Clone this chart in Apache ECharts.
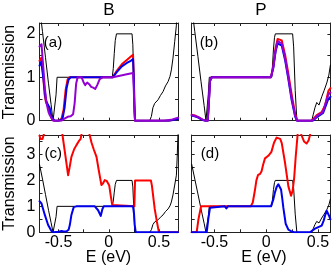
<!DOCTYPE html>
<html><head><meta charset="utf-8">
<script src="https://cdn.jsdelivr.net/npm/echarts@6/dist/echarts.min.js"></script>
<style>html,body{margin:0;padding:0;background:#fff}#c{width:334px;height:266px}</style>
</head><body><div id="c"></div>
<script>
// ---- data (energy E in eV, transmission T) ----
const xTickValues = [-0.5, -0.25, 0, 0.25, 0.5];
const xLabelValues = [-0.5, 0, 0.5];
const yTickTop = [0, 0.5, 1, 1.5, 2];
const yLabelTop = [0, 1, 2];
const yTickBottom = [0, 0.5, 1, 1.5, 2, 2.5, 3, 3.5];
const yLabelBottom = [0, 1, 2, 3];
const columnTitles = ['B', 'P'];
const panelLabels = ['(a)', '(b)', '(c)', '(d)'];

const pristineB = [[-0.69,2.62],[-0.66,2.05],[-0.63,1.45],[-0.6,0.85],[-0.575,0.38],[-0.555,0],[-0.538,0],[-0.525,0.6],[-0.515,1],[0.035,1],[0.045,1.2],[0.055,1.55],[0.065,1.85],[0.077,2],[0.232,2],[0.24,1.75],[0.25,0.9],[0.259,0],[0.408,0],[0.425,0.1],[0.44,0.3],[0.458,0.4],[0.475,0.36],[0.491,0.48],[0.515,0.58],[0.541,0.67],[0.565,0.8],[0.591,0.9],[0.61,1.02],[0.624,1.17],[0.64,1.44],[0.657,1.82],[0.674,2.2],[0.682,2.9],[0.69,3.8]];
const pristineP = [[-0.72,2.62],[-0.69,2.05],[-0.66,1.48],[-0.63,0.9],[-0.6,0.35],[-0.582,0],[-0.57,0],[-0.56,0.6],[-0.55,1],[0.052,1],[0.06,1.25],[0.07,1.65],[0.08,1.92],[0.088,2],[0.255,2],[0.265,1.7],[0.28,0.7],[0.296,0],[0.44,0],[0.455,0.15],[0.471,0.3],[0.488,0.42],[0.5,0.38],[0.51,0.36],[0.536,0.55],[0.56,0.7],[0.585,0.87],[0.605,1.05],[0.62,1.28]];

const redA = [[-0.69,1.38],[-0.672,1.45],[-0.655,1.1],[-0.64,0.62],[-0.625,0.42],[-0.605,0.35],[-0.59,0.25],[-0.57,0.06],[-0.55,0],[-0.5,0],[-0.47,0.05],[-0.45,0.25],[-0.43,0.7],[-0.41,0.95],[-0.39,1],[0.04,1],[0.08,1.15],[0.13,1.3],[0.18,1.4],[0.22,1.48],[0.242,1.52],[0.25,1.0],[0.255,0.4],[0.262,0],[0.6,0],[0.65,0.02],[0.69,0.05]];
const blueA = [[-0.69,1.27],[-0.672,1.36],[-0.65,0.94],[-0.627,0.48],[-0.605,0.36],[-0.588,0.29],[-0.571,0.09],[-0.54,0],[-0.49,0],[-0.46,0.05],[-0.44,0.3],[-0.42,0.75],[-0.4,0.95],[-0.38,1],[0.04,1],[0.08,1.12],[0.13,1.25],[0.18,1.33],[0.22,1.38],[0.242,1.42],[0.25,0.95],[0.255,0.4],[0.262,0],[0.6,0],[0.69,0.04]];
const violetA = [[-0.69,1.71],[-0.67,1.76],[-0.654,1.28],[-0.637,0.75],[-0.62,0.4],[-0.6,0.2],[-0.588,0.13],[-0.555,0],[-0.47,0],[-0.44,0.05],[-0.41,0.09],[-0.38,0.1],[-0.355,0.15],[-0.34,0.4],[-0.325,0.85],[-0.31,1],[-0.27,1],[-0.25,0.88],[-0.235,0.82],[-0.215,0.88],[-0.195,0.84],[-0.175,0.78],[-0.155,0.76],[-0.135,0.73],[-0.115,0.82],[-0.09,0.96],[-0.06,1],[0.04,1],[0.1,1.03],[0.18,1.07],[0.242,1.1],[0.25,0.7],[0.256,0.2],[0.262,0],[0.55,0],[0.62,0.02],[0.69,0.07]];

const redB = [[-0.72,0.14],[-0.69,0.12],[-0.656,0.08],[-0.62,0.03],[-0.591,0],[-0.565,0],[-0.555,0.4],[-0.543,0.92],[-0.527,1],[0.046,1],[0.069,1.27],[0.091,1.68],[0.11,1.88],[0.127,1.92],[0.15,1.85],[0.182,1.52],[0.214,1.08],[0.246,0.6],[0.279,0.16],[0.302,0],[0.44,0],[0.488,0.13],[0.536,0.2],[0.568,0.35],[0.6,0.68],[0.62,0.75]];
const blueB = [[-0.72,0.12],[-0.69,0.1],[-0.656,0.07],[-0.62,0.02],[-0.591,0],[-0.565,0],[-0.555,0.4],[-0.543,0.92],[-0.527,1],[0.046,1],[0.069,1.22],[0.091,1.6],[0.11,1.78],[0.127,1.82],[0.15,1.73],[0.182,1.4],[0.214,0.95],[0.246,0.47],[0.279,0.1],[0.295,0],[0.45,0],[0.5,0.1],[0.55,0.18],[0.6,0.5],[0.62,0.55]];
const violetB = [[-0.72,0.13],[-0.69,0.11],[-0.656,0.08],[-0.62,0.03],[-0.591,0],[-0.565,0],[-0.555,0.4],[-0.543,0.92],[-0.527,1],[0.046,1],[0.069,1.24],[0.091,1.63],[0.11,1.83],[0.127,1.86],[0.15,1.78],[0.182,1.45],[0.214,1.0],[0.246,0.52],[0.279,0.12],[0.298,0],[0.445,0],[0.495,0.12],[0.545,0.19],[0.6,0.6],[0.62,0.65]];

const redC = [[-0.69,3.72],[-0.68,3.6],[-0.67,3.55],[-0.66,3.6],[-0.645,3.8],[-0.62,4.3],[-0.5,4.5],[-0.475,4.1],[-0.461,3.75],[-0.43,2.9],[-0.405,2.2],[-0.39,2.5],[-0.372,2.91],[-0.345,3.2],[-0.322,3.36],[-0.3,3.5],[-0.289,3.55],[-0.28,3.6],[-0.268,3.85],[-0.23,4.2],[-0.2,3.95],[-0.19,3.75],[-0.172,3.46],[-0.15,3.2],[-0.122,2.91],[-0.1,2.4],[-0.073,1.82],[-0.055,1.9],[-0.04,2.01],[-0.02,1.98],[-0.007,1.95],[0.005,1.8],[0.02,1.4],[0.035,1.05],[0.043,1.0],[0.255,1.0],[0.262,2.0],[0.42,2.0],[0.43,1.8],[0.458,0.9],[0.48,0.4],[0.5,0],[0.69,0]];
const blueC = [[-0.69,1.2],[-0.67,1.11],[-0.637,0.67],[-0.604,0.28],[-0.571,0.05],[-0.55,0],[-0.5,0.02],[-0.47,0.05],[-0.45,0.03],[-0.42,0.04],[-0.4,0.1],[-0.388,0.28],[-0.372,0.67],[-0.349,0.97],[-0.322,1],[-0.139,1],[-0.12,0.93],[-0.106,0.85],[-0.08,0.63],[-0.063,0.9],[-0.05,1],[0.242,1],[0.252,0.7],[0.259,0.28],[0.269,0],[0.69,0]];

const redD = [[-0.72,0],[-0.672,0],[-0.655,0.5],[-0.63,1.0],[-0.15,1.0],[-0.13,1.15],[-0.11,1.6],[-0.095,2.0],[-0.08,2.2],[-0.06,2.25],[-0.045,2.35],[-0.03,2.6],[-0.012,2.85],[0.005,2.85],[0.02,2.95],[0.05,3.1],[0.075,3.45],[0.1,3.65],[0.117,3.69],[0.135,3.6],[0.15,3.44],[0.182,2.67],[0.214,1.77],[0.24,1.41],[0.255,1.6],[0.27,2.1],[0.285,2.92],[0.304,3.8],[0.32,4.1],[0.34,3.75],[0.365,3.5],[0.39,3.42],[0.41,3.55],[0.423,3.75],[0.45,4.2],[0.62,4.5]];
const blueD = [[-0.72,0],[-0.575,0],[-0.56,0.5],[-0.543,0.95],[-0.527,1],[-0.4,1],[-0.385,0.92],[-0.37,1],[0.046,1],[0.069,1.27],[0.085,1.55],[0.101,1.75],[0.117,1.85],[0.13,1.8],[0.143,1.65],[0.155,1.3],[0.165,0.96],[0.188,0.33],[0.214,0.1],[0.246,0.03],[0.27,0],[0.423,0],[0.471,0.14],[0.536,0.26],[0.555,0.45],[0.568,0.64],[0.584,0.83],[0.607,0.64],[0.62,0.5]];

// ---- layout / style ----
const FONT = 'Liberation Sans, Arial, Helvetica, sans-serif';
const AX = '#222';
const RED = '#ff0000', BLUE = '#0000ee', VIOLET = '#9400d3', BLACK = '#000';
const panels = [
  {grid:{left:39.5, top:23, width:138.5, height:97.7}, xr:[-0.69,0.69], yr:[0,2.25], yt:yTickTop, yl:yLabelTop, showX:false, showY:true,
   lines:[[pristineB,BLACK,1],[redA,RED,2],[blueA,BLUE,2],[violetA,VIOLET,2]]},
  {grid:{left:191.7, top:23, width:138.7, height:97.7}, xr:[-0.72,0.62], yr:[0,2.25], yt:yTickTop, yl:yLabelTop, showX:false, showY:false,
   lines:[[pristineP,BLACK,1],[redB,RED,2],[blueB,BLUE,2],[violetB,VIOLET,2]]},
  {grid:{left:39.5, top:135, width:138.5, height:97.3}, xr:[-0.69,0.69], yr:[0,3.75], yt:yTickBottom, yl:yLabelBottom, showX:true, showY:true,
   lines:[[pristineB,BLACK,1],[redC,RED,2],[blueC,BLUE,2]]},
  {grid:{left:191.7, top:135, width:138.7, height:97.3}, xr:[-0.72,0.62], yr:[0,3.75], yt:yTickBottom, yl:yLabelBottom, showX:true, showY:false,
   lines:[[pristineP,BLACK,1],[redD,RED,2],[blueD,BLUE,2]]}
];

const grid = [], xAxis = [], yAxis = [], series = [];
panels.forEach((p, g) => {
  grid.push(p.grid);
  ['bottom','top'].forEach((pos, k) => {
    xAxis.push({type:'value', gridIndex:g, position:pos, min:p.xr[0], max:p.xr[1],
      axisLine:{show:true, onZero:false, lineStyle:{color:AX, width:1}},
      axisTick:{show:true, inside:true, length:3, customValues:xTickValues, lineStyle:{color:AX}},
      axisLabel:{show:(k===0 && p.showX), customValues:xLabelValues, fontSize:16, fontFamily:FONT, color:'#000', margin:2},
      splitLine:{show:false}});
  });
  ['left','right'].forEach((pos, k) => {
    yAxis.push({type:'value', gridIndex:g, position:pos, min:p.yr[0], max:p.yr[1],
      axisLine:{show:true, onZero:false, lineStyle:{color:AX, width:1}},
      axisTick:{show:true, inside:true, length:3, customValues:p.yt, lineStyle:{color:AX}},
      axisLabel:{show:(k===0 && p.showY), customValues:p.yl, fontSize:16, fontFamily:FONT, color:'#000', margin:4},
      splitLine:{show:false}});
  });
  p.lines.forEach(([d, c, w], i) => {
    series.push({type:'line', xAxisIndex:2*g, yAxisIndex:2*g, data:d, showSymbol:false, symbol:'none',
      clip:true, silent:true, z:2+i, lineStyle:{color:c, width:w, join:'round', cap:'round'}});
  });
});

function txt(text, x, y, size, rot) {
  return {type:'text', x:x, y:y, rotation:rot||0, silent:true,
    style:{text:text, font:size+'px '+FONT, fill:'#000', align:'center', verticalAlign:'middle', textAlign:'center', textVerticalAlign:'middle'}};
}
const graphic = [
  txt(columnTitles[0], 108.8, 10, 17), txt(columnTitles[1], 261, 10, 17),
  txt('Transmission', 10, 72, 16, Math.PI/2), txt('Transmission', 10, 183.5, 16, Math.PI/2),
  txt('E (eV)', 108.5, 258, 16), txt('E (eV)', 264, 258, 16),
  txt(panelLabels[0], 53, 42.5, 15), txt(panelLabels[1], 209, 43, 15),
  txt(panelLabels[2], 53.3, 154, 15), txt(panelLabels[3], 210, 154, 15)
];

const chart = echarts.init(document.getElementById('c'), null, {renderer:'canvas'});
chart.setOption({animation:false, backgroundColor:'#fff', grid, xAxis, yAxis, series, graphic});
</script></body></html>
